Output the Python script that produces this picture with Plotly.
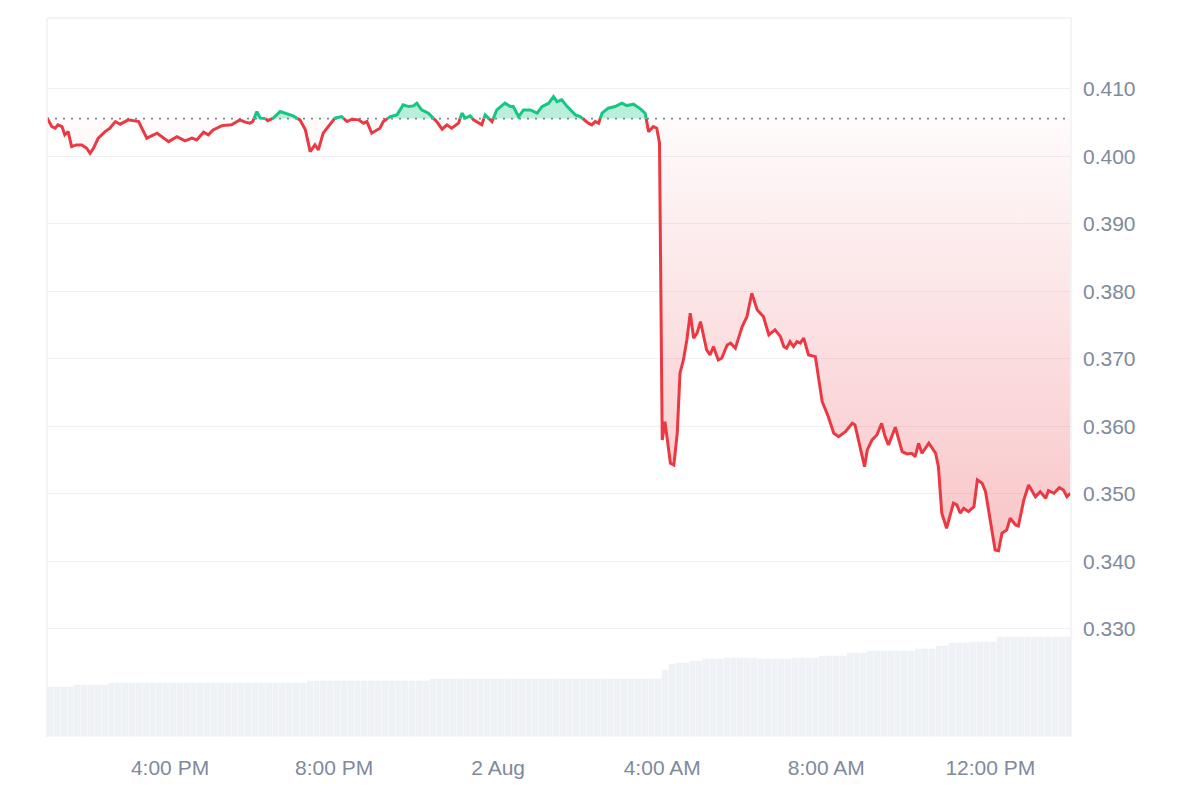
import pandas as pd
import plotly.graph_objects as go

START = pd.Timestamp("2024-08-01 13:00")

# minutes after 1 Aug 13:00 and price
price_minutes = [
    0, 7, 12, 16, 22, 26, 31, 36, 43, 51, 58, 63, 68, 75, 85, 92, 100, 107, 119, 134,
    146, 161, 178, 190, 202, 212, 219, 229, 236, 243, 256, 270, 282, 290, 297, 301, 307, 312, 319, 323,
    331, 341, 351, 360, 370, 378, 385, 392, 397, 404, 414, 421, 431, 439, 446, 456, 463, 468, 475, 482,
    487, 492, 502, 512, 521, 529, 536, 541, 548, 558, 570, 578, 585, 592, 602, 607, 612, 619, 624, 636,
    641, 646, 651, 658, 670, 678, 682, 690, 697, 707, 717, 724, 734, 741, 746, 753, 761, 773, 780, 792,
    797, 802, 807, 812, 821, 831, 841, 848, 858, 868, 875, 880, 887, 892, 896, 900, 904, 912, 917, 922,
    926, 931, 936, 941, 946, 951, 956, 961, 965, 970, 975, 982, 987, 995, 1000, 1007, 1017, 1024, 1031, 1039,
    1048, 1056, 1065, 1073, 1078, 1082, 1087, 1092, 1097, 1102, 1107, 1114, 1124, 1134, 1143, 1151, 1158, 1168, 1178, 1182,
    1190, 1196, 1200, 1207, 1214, 1221, 1226, 1231, 1241, 1251, 1258, 1265, 1270, 1275, 1280, 1290, 1300, 1304, 1309, 1316,
    1326, 1331, 1336, 1341, 1348, 1356, 1361, 1368, 1373, 1380, 1387, 1392, 1397, 1404, 1409, 1417, 1421, 1429, 1436, 1446,
    1453, 1461, 1465, 1473, 1481, 1487, 1492, 1497,
]
price_values = [
    0.40575, 0.40441, 0.40418, 0.40467, 0.40441, 0.40319, 0.40367, 0.40145, 0.40170, 0.40170,
    0.40121, 0.40047, 0.40121, 0.40270, 0.40367, 0.40418, 0.40516, 0.40477, 0.40541, 0.40516,
    0.40270, 0.40344, 0.40219, 0.40293, 0.40230, 0.40270, 0.40244, 0.40359, 0.40319, 0.40393,
    0.40456, 0.40467, 0.40541, 0.40507, 0.40492, 0.40516, 0.40664, 0.40566, 0.40566, 0.40530,
    0.40566, 0.40664, 0.40630, 0.40600, 0.40541, 0.40393, 0.40071, 0.40170, 0.40096, 0.40344,
    0.40467, 0.40566, 0.40590, 0.40516, 0.40551, 0.40541, 0.40492, 0.40516, 0.40344, 0.40393,
    0.40418, 0.40516, 0.40590, 0.40615, 0.40763, 0.40738, 0.40748, 0.40788, 0.40689, 0.40640,
    0.40516, 0.40403, 0.40467, 0.40418, 0.40492, 0.40640, 0.40566, 0.40600, 0.40541, 0.40467,
    0.40615, 0.40566, 0.40516, 0.40689, 0.40788, 0.40738, 0.40738, 0.40590, 0.40689, 0.40689,
    0.40640, 0.40738, 0.40788, 0.40886, 0.40812, 0.40837, 0.40738, 0.40615, 0.40590, 0.40492,
    0.40467, 0.40516, 0.40492, 0.40640, 0.40714, 0.40738, 0.40788, 0.40753, 0.40773, 0.40704,
    0.40640, 0.40367, 0.40441, 0.40418, 0.40200, 0.35800, 0.36071, 0.35455, 0.35430, 0.35899,
    0.36788, 0.36985, 0.37281, 0.37677, 0.37307, 0.37381, 0.37553, 0.37330, 0.37133, 0.37059,
    0.37182, 0.36985, 0.37010, 0.37207, 0.37233, 0.37159, 0.37479, 0.37627, 0.37973, 0.37726,
    0.37627, 0.37356, 0.37430, 0.37330, 0.37182, 0.37159, 0.37256, 0.37182, 0.37256, 0.37233,
    0.37307, 0.37059, 0.37034, 0.36367, 0.36145, 0.35899, 0.35849, 0.35923, 0.36047, 0.36022,
    0.35652, 0.35404, 0.35652, 0.35800, 0.35874, 0.36047, 0.35849, 0.35726, 0.35988, 0.35627,
    0.35593, 0.35603, 0.35553, 0.35751, 0.35603, 0.35751, 0.35603, 0.35404, 0.34714, 0.34492,
    0.34862, 0.34837, 0.34714, 0.34788, 0.34738, 0.34812, 0.35207, 0.35159, 0.35034, 0.34566,
    0.34170, 0.34160, 0.34418, 0.34467, 0.34640, 0.34541, 0.34526, 0.34911, 0.35133, 0.34960,
    0.35034, 0.34936, 0.35049, 0.35010, 0.35093, 0.35059, 0.34960, 0.35010,
]
baseline_price = 0.4056

# volume bars, one per 10 minutes (centre minutes after 13:00)
volume_minutes = list(range(5, 1500, 10))
volume_values = [
    25.0, 25.0, 25.0, 25.0, 26.2, 26.2, 26.2, 26.2, 26.2, 27.2,
    27.2, 27.2, 27.2, 27.2, 27.2, 27.2, 27.2, 27.2, 27.2, 27.2,
    27.2, 27.2, 27.2, 27.2, 27.2, 27.2, 27.2, 27.2, 27.2, 27.2,
    27.2, 27.2, 27.2, 27.2, 27.2, 27.2, 27.2, 27.2, 28.0, 28.0,
    28.0, 28.0, 28.0, 28.0, 28.0, 28.0, 28.0, 28.0, 28.0, 28.0,
    28.0, 28.0, 28.0, 28.0, 28.0, 28.0, 29.0, 29.0, 29.0, 29.0,
    29.0, 29.0, 29.0, 29.0, 29.0, 29.0, 29.0, 29.0, 29.0, 29.0,
    29.0, 29.0, 29.0, 29.0, 29.0, 29.0, 29.0, 29.0, 29.0, 29.0,
    29.0, 29.0, 29.0, 29.0, 29.0, 29.0, 29.0, 29.0, 29.0, 29.0,
    33.5, 36.5, 37.2, 37.2, 38.2, 38.2, 39.0, 39.0, 39.0, 39.3,
    39.7, 39.7, 39.7, 39.7, 39.0, 39.0, 39.0, 39.0, 39.0, 39.3,
    39.3, 39.3, 39.3, 40.7, 40.7, 40.7, 40.7, 41.8, 41.8, 41.8,
    43.0, 43.0, 43.0, 43.0, 43.0, 43.0, 43.0, 43.8, 43.8, 43.8,
    45.5, 45.5, 46.8, 46.8, 46.8, 47.7, 47.7, 47.7, 47.7, 50.2,
    50.2, 50.2, 50.2, 50.2, 50.2, 50.2, 50.2, 50.2, 50.2, 50.2,
]

tick_minutes = [180, 420, 660, 900, 1140, 1380]
tick_labels = ["4:00 PM", "8:00 PM", "2 Aug", "4:00 AM", "8:00 AM", "12:00 PM"]
price_ticks = [0.33, 0.34, 0.35, 0.36, 0.37, 0.38, 0.39, 0.40, 0.41]

GREEN = "#16c784"
RED = "#ea3943"
GREY_TXT = "#808a9d"
GRID = "#eff1f4"


def ts(m):
    return START + pd.Timedelta(minutes=float(m))


# insert baseline crossings so colours switch exactly at the baseline
xs, ys = [], []
for i, (m, p) in enumerate(zip(price_minutes, price_values)):
    if i > 0:
        m0, p0 = price_minutes[i - 1], price_values[i - 1]
        if (p0 - baseline_price) * (p - baseline_price) < 0:
            f = (baseline_price - p0) / (p - p0)
            xs.append(m0 + f * (m - m0))
            ys.append(baseline_price)
    xs.append(m)
    ys.append(p)

xt = [ts(m) for m in xs]
y_hi = [max(y, baseline_price) for y in ys]
y_lo = [min(y, baseline_price) for y in ys]
y_green = [y if y >= baseline_price else None for y in ys]
y_red = [y if y <= baseline_price else None for y in ys]
base_x = [xt[0], xt[-1]]
base_y = [baseline_price, baseline_price]

fig = go.Figure()

fig.add_trace(go.Bar(
    x=[ts(m) for m in volume_minutes], y=volume_values, yaxis="y2",
    width=10 * 60 * 1000, marker=dict(color="#eef1f5", line=dict(width=0.6, color="rgba(255,255,255,0.55)")),
    hoverinfo="skip", showlegend=False,
))

# green area
fig.add_trace(go.Scatter(x=base_x, y=base_y, mode="lines", line=dict(width=0),
                         hoverinfo="skip", showlegend=False))
fig.add_trace(go.Scatter(x=xt, y=y_hi, mode="lines", line=dict(width=0), fill="tonexty",
                         fillcolor="rgba(22,199,132,0.30)", hoverinfo="skip", showlegend=False))
# red gradient area
fig.add_trace(go.Scatter(x=base_x, y=base_y, mode="lines", line=dict(width=0),
                         hoverinfo="skip", showlegend=False))
fig.add_trace(go.Scatter(
    x=xt, y=y_lo, mode="lines", line=dict(width=0), fill="tonexty",
    fillgradient=dict(type="vertical", start=0.340, stop=baseline_price,
                      colorscale=[[0, "rgba(234,57,67,0.30)"], [1, "rgba(234,57,67,0.02)"]]),
    hoverinfo="skip", showlegend=False,
))
fig.add_trace(go.Scatter(x=xt, y=y_red, mode="lines", line=dict(color=RED, width=3),
                         connectgaps=False, showlegend=False))
fig.add_trace(go.Scatter(x=xt, y=y_green, mode="lines", line=dict(color=GREEN, width=3),
                         connectgaps=False, showlegend=False))

shapes = [
    dict(type="line", xref="paper", yref="y", x0=0, x1=1, y0=baseline_price, y1=baseline_price,
         line=dict(color="#7f8694", width=1.6, dash="2px,6px"), layer="below"),
    dict(type="line", xref="paper", yref="paper", x0=0, x1=1, y0=1, y1=1,
         line=dict(color=GRID, width=1.5)),
    dict(type="line", xref="paper", yref="paper", x0=0, x1=0, y0=0, y1=1,
         line=dict(color=GRID, width=1.5)),
    dict(type="line", xref="paper", yref="paper", x0=1, x1=1, y0=0, y1=1,
         line=dict(color=GRID, width=1.5)),
]

fig.update_layout(
    width=1200, height=800,
    margin=dict(l=39, r=137, t=10, b=71),
    paper_bgcolor="white", plot_bgcolor="white",
    font=dict(family="Liberation Sans, Arial, sans-serif", size=21, color=GREY_TXT),
    showlegend=False, bargap=0,
    shapes=shapes,
    xaxis=dict(
        type="date", range=[ts(0), ts(1498)],
        tickvals=[ts(m) for m in tick_minutes], ticktext=tick_labels,
        showgrid=False, zeroline=False, showline=False, ticks="",
        ticklabelstandoff=16,
    ),
    yaxis=dict(
        side="right", range=[0.3140, 0.4205],
        tickvals=price_ticks, ticktext=[f"{v:.3f}" for v in price_ticks],
        showgrid=True, gridcolor=GRID, gridwidth=1.2, zeroline=False, showline=False,
        ticks="", ticklabelstandoff=11,
    ),
    yaxis2=dict(overlaying="y", range=[0, 359.5], visible=False, showgrid=False),
)

fig.write_html("out.html")
